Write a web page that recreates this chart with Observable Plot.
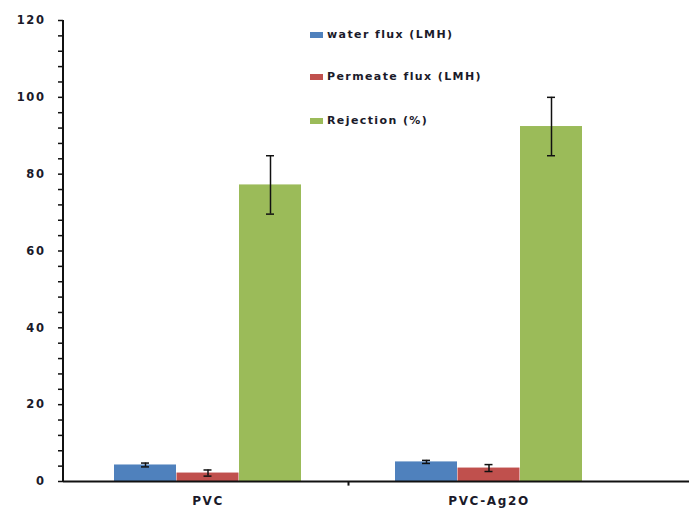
<!DOCTYPE html>
<html>
<head>
<meta charset="utf-8">
<script src="https://cdn.jsdelivr.net/npm/d3@7"></script>
<script src="https://cdn.jsdelivr.net/npm/@observablehq/plot@0.6"></script>
<style>
  body { margin: 0; background: #fff; }
  #wrap { position: relative; width: 689px; height: 508px; font-family: "DejaVu Sans", Verdana, sans-serif; }
  #legend { position: absolute; left: 310px; top: 28px; font-size: 11px; font-weight: bold; color: #1a1a2a; letter-spacing: 1.4px; }
  .item { position: absolute; left: 0; white-space: nowrap; display: flex; align-items: center; }
  .sw { display: inline-block; width: 13px; height: 6px; margin-right: 4px; }
  svg text { letter-spacing: 1.6px; }
</style>
</head>
<body>
<div id="wrap"><div id="legend"></div></div>
<script>
const categories = ["PVC", "PVC-Ag2O"];
const series = ["water flux (LMH)", "Permeate flux (LMH)", "Rejection (%)"];
const waterFlux = [4.3, 5.1];
const waterErr = [0.5, 0.4];
const permeateFlux = [2.2, 3.5];
const permeateErr = [0.8, 0.9];
const rejection = [77.2, 92.4];
const rejectionErr = [7.6, 7.6];
const colors = ["#4F81BD", "#C0504D", "#9BBB59"];
const yTicks = [0, 20, 40, 60, 80, 100, 120];

const values = [waterFlux, permeateFlux, rejection];
const errs = [waterErr, permeateErr, rejectionErr];

const W = 689, H = 508;
const xRange = [67, 629];
const band = (xRange[1] - xRange[0]) / categories.length;
const barW = 62, step = 62.5, capHalf = 4;

const marks = [];
series.forEach((s, i) => {
  const data = categories.map((c, j) => ({cat: c, v: values[i][j], e: errs[i][j]}));
  const off = (i - 1) * step;
  const inL = band / 2 - barW / 2 + off;
  const inR = band / 2 - barW / 2 - off;
  marks.push(Plot.barY(data, {x: "cat", y: "v", fill: colors[i], insetLeft: inL, insetRight: inR}));
  marks.push(Plot.ruleX(data, {x: "cat", y1: d => d.v - d.e, y2: d => d.v + d.e, dx: off, stroke: "#111", strokeWidth: 1.5}));
  marks.push(Plot.tickY(data, {x: "cat", y: d => d.v - d.e, insetLeft: band / 2 + off - capHalf, insetRight: band / 2 - off - capHalf, stroke: "#111", strokeWidth: 1.5}));
  marks.push(Plot.tickY(data, {x: "cat", y: d => d.v + d.e, insetLeft: band / 2 + off - capHalf, insetRight: band / 2 - off - capHalf, stroke: "#111", strokeWidth: 1.5}));
});

const plot = Plot.plot({
  width: W,
  height: H,
  marginLeft: 63,
  marginRight: 0,
  marginTop: 20,
  marginBottom: 27,
  style: {fontFamily: "DejaVu Sans, Verdana, sans-serif", fontWeight: "bold", color: "#1a1a2a", background: "#fff"},
  x: {domain: categories, range: xRange, padding: 0},
  y: {domain: [0, 120]},
  marks: [
    ...marks,
    Plot.axisY({ticks: d3.range(0, 121, 4), tickSize: 5, tickFormat: () => "", strokeWidth: 1.5, stroke: "#111", label: null}),
    Plot.axisY({ticks: yTicks, tickSize: 0, tickPadding: 18, fontSize: 11.5, fill: "#1a1a2a", label: null}),
    Plot.axisX({tickSize: 0, tickPadding: 15, fontSize: 12, fill: "#1a1a2a", label: null}),
    Plot.ruleY([0], {stroke: "#111", strokeWidth: 2}),
    Plot.ruleX([categories[1]], {x: d => d, y1: 0, y2: -1.2, dx: -band / 2, stroke: "#111", strokeWidth: 2}),
    (index, scales, vals, dims) => {
      const l = d3.create("svg:line")
        .attr("x1", dims.marginLeft).attr("x2", dims.marginLeft)
        .attr("y1", dims.marginTop).attr("y2", dims.height - dims.marginBottom + 1)
        .attr("stroke", "#111").attr("stroke-width", 2);
      return l.node();
    }
  ]
});

const wrap = document.getElementById("wrap");
wrap.insertBefore(plot, wrap.firstChild);

const legend = document.getElementById("legend");
const tops = [0, 42, 86];
series.forEach((s, i) => {
  const it = document.createElement("div");
  it.className = "item";
  it.style.top = tops[i] + "px";
  it.innerHTML = `<span class="sw" style="background:${colors[i]}"></span><span>${s}</span>`;
  legend.appendChild(it);
});
</script>
</body>
</html>
